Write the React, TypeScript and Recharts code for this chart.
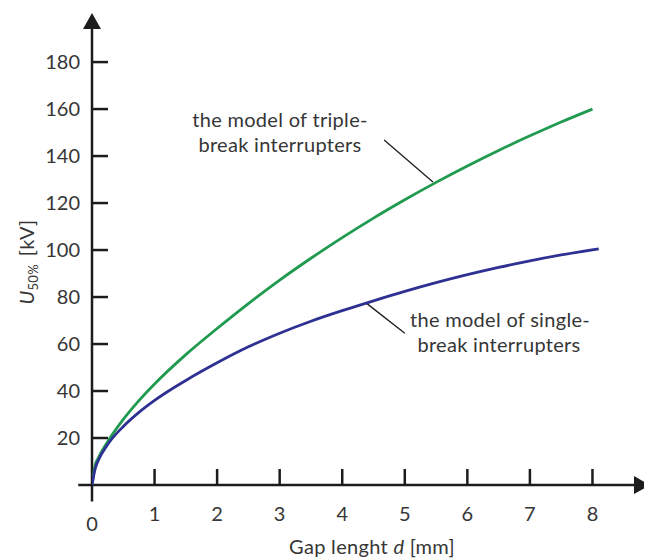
import { LineChart, Line, XAxis, YAxis, ReferenceLine, Customized } from 'recharts'

// gap length d [mm] and U50% [kV]
const tripleD = [0, 0.05, 0.1, 0.25, 0.5, 0.75, 1, 1.5, 2, 2.5, 3, 3.5, 4, 4.5, 5, 5.5, 6, 6.5, 7, 7.5, 8]
const tripleU = [0, 8.4, 11.5, 18.4, 27.9, 35.9, 43, 55.5, 66.6, 77.2, 87.2, 96.5, 105.3, 113.6, 121.4, 128.8, 135.8, 142.4, 148.6, 154.5, 160]

const singleD = [0, 0.05, 0.1, 0.25, 0.5, 0.75, 1, 1.5, 2, 2.5, 3, 3.5, 4, 4.5, 5, 5.5, 6, 6.5, 7, 7.5, 8.1]
const singleU = [0, 6.9, 10.4, 17.2, 24.9, 30.9, 36, 44.5, 52, 58.8, 64.6, 69.7, 74.2, 78.4, 82.4, 86.1, 89.5, 92.6, 95.4, 97.9, 100.5]

const xTicks = [0, 1, 2, 3, 4, 5, 6, 7, 8]
const yTicks = [20, 40, 60, 80, 100, 120, 140, 160, 180]

const tripleData = tripleD.map((d, i) => ({ d, u: tripleU[i] }))
const singleData = singleD.map((d, i) => ({ d, u: singleU[i] }))

const INK = '#1c1c1c'
const TEXT = '#363636'
const GREEN = '#1f9a4f'
const BLUE = '#2e3192'
const FONT = 'Lato, "Open Sans", sans-serif'

function XTick({ x, y, payload }: any) {
  const v = payload.value
  return (
    <g>
      {v !== 0 && <line x1={x} x2={x} y1={y - 23} y2={y - 39} stroke={INK} strokeWidth={2.5} />}
      <text x={x} y={v === 0 ? y + 9 : y - 1} dy="0.71em" textAnchor="middle" fill={TEXT} fontSize={20} fontFamily={FONT}>
        {v}
      </text>
    </g>
  )
}

function YTick({ x, y, payload }: any) {
  return (
    <g>
      <line x1={x + 12} x2={x + 28} y1={y} y2={y} stroke={INK} strokeWidth={2.5} />
      <text x={x} y={y} dy="0.36em" textAnchor="end" fill={TEXT} fontSize={20} fontFamily={FONT}>
        {payload.value}
      </text>
    </g>
  )
}

function Labels() {
  const t = { fill: TEXT, fontFamily: FONT, fontSize: 20, textAnchor: 'middle' as const, letterSpacing: 0.3 }
  return (
    <g>
      <text {...t} x={364} y={539} dy="0.36em">
        Gap lenght <tspan fontStyle="italic">d</tspan> [mm]
      </text>
      <text {...t} x={19} y={254} transform="rotate(-90 19 254)" dy="0.36em">
        <tspan fontStyle="italic">U</tspan>
        <tspan fontSize={13} dy={4}>50%</tspan>
        <tspan dy={-4} dx={8}>[kV]</tspan>
      </text>
      <text {...t} x={272} y={112} dy="0.36em">the model of triple-</text>
      <text {...t} x={272} y={137} dy="0.36em">break interrupters</text>
      <text {...t} x={492} y={312} dy="0.36em">the model of single-</text>
      <text {...t} x={491} y={337} dy="0.36em">break interrupters</text>
    </g>
  )
}

export default function App() {
  return (
    <div style={{ position: 'relative' }}>
      <svg width={0} height={0} style={{ position: 'absolute' }}>
        <defs>
          <marker id="arrowHead" viewBox="0 0 16 18" markerWidth={16} markerHeight={18} refX={1} refY={9} orient="auto" markerUnits="userSpaceOnUse">
            <path d="M0,0 L16,9 L0,18 Z" fill={INK} />
          </marker>
        </defs>
      </svg>
      <LineChart width={644} height={550} margin={{ top: 20, right: 17, bottom: 0, left: 0 }}>
        <XAxis
          type="number"
          dataKey="d"
          domain={[0, 8.68]}
          ticks={xTicks}
          axisLine={false}
          tickLine={false}
          tickSize={0}
          tickMargin={23}
          height={73}
          tick={<XTick />}
          allowDataOverflow
        />
        <YAxis
          type="number"
          dataKey="u"
          domain={[0, 194.5]}
          ticks={yTicks}
          axisLine={false}
          tickLine={false}
          tickSize={0}
          tickMargin={12}
          width={84}
          tick={<YTick />}
          allowDataOverflow
        />
        <ReferenceLine
          segment={[{ x: -0.22, y: 0 }, { x: 8.68, y: 0 }]}
          ifOverflow="visible"
          stroke={INK}
          strokeWidth={2.5}
          markerEnd="url(#arrowHead)"
        />
        <ReferenceLine
          segment={[{ x: 0, y: -7 }, { x: 0, y: 194.5 }]}
          ifOverflow="visible"
          stroke={INK}
          strokeWidth={2.5}
          markerEnd="url(#arrowHead)"
        />
        <ReferenceLine segment={[{ x: 4.67, y: 146.8 }, { x: 5.45, y: 129 }]} ifOverflow="visible" stroke={INK} strokeWidth={1.3} />
        <ReferenceLine segment={[{ x: 4.39, y: 77.3 }, { x: 5.0, y: 64.6 }]} ifOverflow="visible" stroke={INK} strokeWidth={1.3} />
        <Line data={tripleData} dataKey="u" type="monotone" stroke={GREEN} strokeWidth={2.8} dot={false} isAnimationActive={false} />
        <Line data={singleData} dataKey="u" type="monotone" stroke={BLUE} strokeWidth={2.8} dot={false} isAnimationActive={false} />
        <Customized component={Labels} />
      </LineChart>
    </div>
  )
}
